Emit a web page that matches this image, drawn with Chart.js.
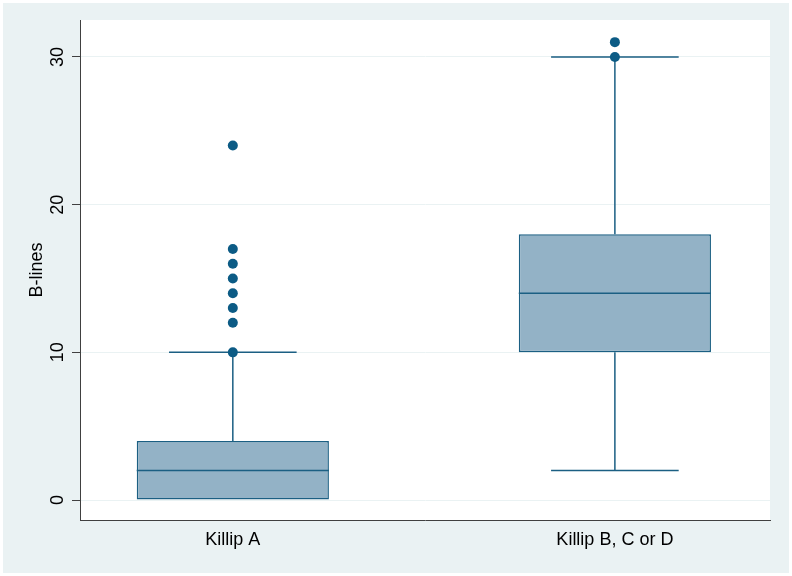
<!DOCTYPE html>
<html>
<head>
<meta charset="utf-8">
<script src="https://cdn.jsdelivr.net/npm/chart.js@4"></script>
<style>
    html, body { margin: 0; padding: 0; background: #ffffff; }
    #wrap { position: absolute; left: 3px; top: 3px; width: 786px; height: 570px; background: #eaf2f3; }
</style>
</head>
<body>
<div id="wrap"><canvas id="boxChart" width="786" height="570"></canvas></div>
<script>
const categories = ['Killip A', 'Killip B, C or D'];
const lowerWhisker = [0, 2];
const q1 = [0, 10];
const median = [2, 14];
const q3 = [4, 18];
const upperWhisker = [10, 30];
const outliers = [
    [10, 12, 13, 14, 15, 16, 17, 24],
    [30, 31]
];
const yTicks = [0, 10, 20, 30];

const boxHalf = 0.2515;
const capHalf = 0.167;
const lineColor = '#1b5f83';
const boxFill = '#93b2c6';
const dotColor = '#0c5b85';
const fontFamily = '"Liberation Sans", Arial, sans-serif';

function whiskerPoints() {
    const pts = [];
    categories.forEach((c, i) => {
        const x = i + 1;
        if (upperWhisker[i] > q3[i]) {
            pts.push({x: x, y: q3[i]}, {x: x, y: upperWhisker[i]}, {x: x, y: null});
            pts.push({x: x - capHalf, y: upperWhisker[i]}, {x: x + capHalf, y: upperWhisker[i]}, {x: x, y: null});
        }
        if (lowerWhisker[i] < q1[i]) {
            pts.push({x: x, y: q1[i]}, {x: x, y: lowerWhisker[i]}, {x: x, y: null});
            pts.push({x: x - capHalf, y: lowerWhisker[i]}, {x: x + capHalf, y: lowerWhisker[i]}, {x: x, y: null});
        }
    });
    return pts;
}

function medianPoints() {
    const pts = [];
    categories.forEach((c, i) => {
        const x = i + 1;
        pts.push({x: x - boxHalf, y: median[i]}, {x: x + boxHalf, y: median[i]}, {x: x, y: null});
    });
    return pts;
}

const plotBackground = {
    id: 'plotBackground',
    beforeDraw(chart) {
        const {ctx, chartArea} = chart;
        ctx.save();
        ctx.fillStyle = '#ffffff';
        ctx.fillRect(chartArea.left, chartArea.top, chartArea.width, chartArea.height);
        ctx.restore();
    }
};

// vertical tick labels on the y axis, like the Stata original
const yTickLabels = {
    id: 'yTickLabels',
    afterDraw(chart) {
        const scale = chart.scales.y;
        const ctx = chart.ctx;
        ctx.save();
        ctx.font = '18px ' + fontFamily;
        ctx.fillStyle = '#000000';
        ctx.textAlign = 'center';
        ctx.textBaseline = 'middle';
        scale.ticks.forEach(t => {
            const y = scale.getPixelForValue(t.value);
            ctx.save();
            ctx.translate(55, y);
            ctx.rotate(-Math.PI / 2);
            ctx.fillText(String(t.value), 0, 0);
            ctx.restore();
        });
        ctx.restore();
    }
};

new Chart(document.getElementById('boxChart'), {
    type: 'bar',
    data: {
        datasets: [
            {
                type: 'line',
                data: outliers.flatMap((arr, i) => arr.map(v => ({x: i + 1, y: v}))),
                showLine: false,
                pointRadius: 5,
                pointBackgroundColor: dotColor,
                pointBorderColor: dotColor,
                pointBorderWidth: 0,
                order: 1
            },
            {
                type: 'line',
                data: medianPoints(),
                borderColor: lineColor,
                borderWidth: 1.5,
                pointRadius: 0,
                spanGaps: false,
                order: 2
            },
            {
                type: 'line',
                data: whiskerPoints(),
                borderColor: lineColor,
                borderWidth: 1.5,
                pointRadius: 0,
                spanGaps: false,
                order: 2
            },
            {
                type: 'bar',
                data: categories.map((c, i) => ({x: i + 1, y: [q1[i], q3[i]]})),
                backgroundColor: boxFill,
                borderColor: lineColor,
                borderWidth: 1.5,
                borderSkipped: false,
                categoryPercentage: 1,
                barPercentage: boxHalf * 2,
                order: 3
            }
        ]
    },
    plugins: [plotBackground, yTickLabels],
    options: {
        responsive: false,
        animation: false,
        devicePixelRatio: 1,
        layout: {
            padding: {left: 0, right: 19, top: 17, bottom: 0}
        },
        plugins: {
            legend: {display: false},
            tooltip: {enabled: false}
        },
        scales: {
            x: {
                type: 'linear',
                min: 0.6,
                max: 2.406,
                offset: false,
                afterFit: s => { s.height = 53; },
                afterBuildTicks: s => { s.ticks = categories.map((c, i) => ({value: i + 1})); },
                grid: {display: false, drawTicks: false, offset: false},
                border: {display: true, color: '#404040', width: 1},
                ticks: {
                    padding: 9,
                    color: '#000000',
                    font: {family: fontFamily, size: 18},
                    callback: v => categories[v - 1]
                }
            },
            y: {
                type: 'linear',
                min: -1.35,
                max: 32.5,
                afterFit: s => { s.width = 77; },
                afterBuildTicks: s => { s.ticks = yTicks.map(v => ({value: v})); },
                grid: {
                    color: '#eaf2f3',
                    lineWidth: 1,
                    drawTicks: true,
                    tickLength: 8,
                    tickColor: '#404040'
                },
                border: {display: true, color: '#404040', width: 1},
                ticks: {display: false},
                title: {
                    display: true,
                    text: 'B-lines',
                    color: '#000000',
                    padding: {top: 23, bottom: 0},
                    font: {family: fontFamily, size: 18}
                }
            }
        }
    }
});
</script>
</body>
</html>
